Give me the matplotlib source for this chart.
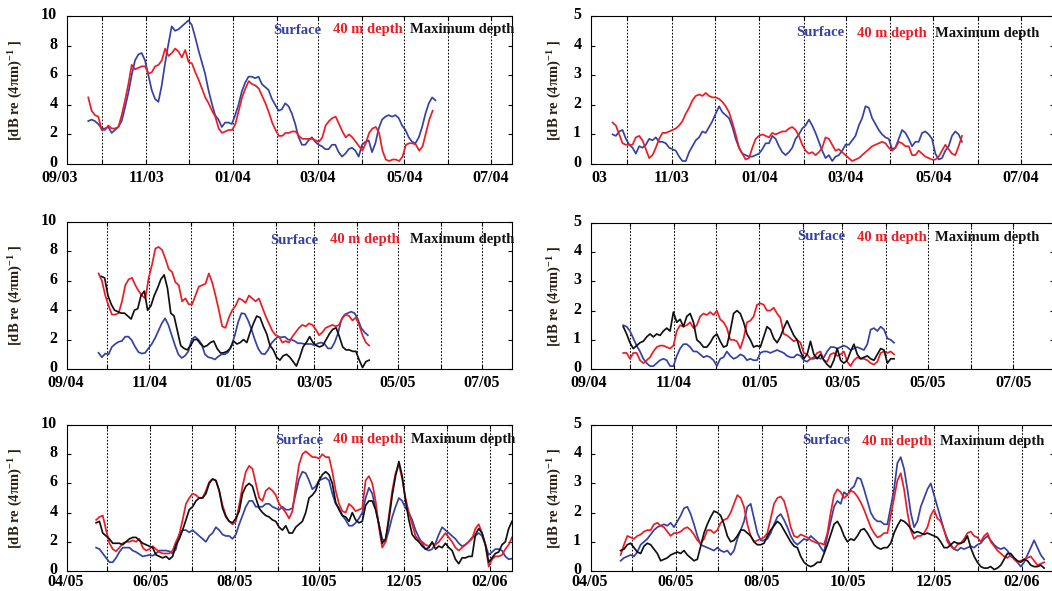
import matplotlib
matplotlib.use('Agg')
import matplotlib.pyplot as plt
import matplotlib.dates as mdates
from matplotlib.ticker import FuncFormatter
from matplotlib.transforms import ScaledTranslation
import pandas as pd

# ---------------- data ----------------
# Panel A (top-left): 2003-2004, scale 0-10
A_SURF_SPAN = ('2003-09-21', '2004-05-23')
A_SURF = [2.9, 3.0, 2.9, 2.7, 2.4, 2.4, 2.5, 2.1, 2.3, 2.5, 2.9, 3.8, 4.8, 6.0, 7.0, 7.4, 7.5, 7.0, 6.0, 5.0,
          4.4, 4.2, 5.3, 6.8, 8.1, 9.3, 9.0, 9.1, 9.3, 9.5, 9.7, 9.4, 8.6, 7.7, 6.9, 6.1, 5.0, 4.1, 3.3, 3.0,
          2.5, 2.8, 2.8, 2.7, 3.3, 4.0, 4.9, 5.5, 5.9, 5.9, 5.8, 5.9, 5.4, 5.2, 5.0, 4.4, 4.0, 3.6, 3.7, 4.1,
          3.9, 3.4, 2.7, 1.8, 1.3, 1.3, 1.6, 1.8, 1.5, 1.3, 1.2, 1.0, 1.0, 1.3, 1.3, 0.8, 0.5, 0.7, 1.0, 1.1,
          0.9, 0.5, 1.3, 1.5, 1.6, 0.8, 1.4, 2.4, 3.0, 3.2, 3.3, 3.2, 3.3, 3.1, 2.6, 2.3, 1.8, 1.5, 1.4, 1.8,
          2.5, 3.4, 4.1, 4.5, 4.3]
A_40M_SPAN = ('2003-09-21', '2004-05-21')
A_40M = [4.5, 3.6, 3.3, 3.2, 2.3, 2.3, 2.6, 2.4, 2.4, 2.5, 3.3, 4.3, 5.4, 6.7, 6.4, 6.5, 6.6, 6.6, 6.1, 6.2,
         6.6, 6.7, 7.0, 7.8, 7.3, 7.5, 7.8, 7.6, 7.2, 7.7, 6.9, 6.8, 6.2, 5.7, 5.1, 4.5, 4.1, 3.6, 3.2, 2.4,
         2.1, 2.2, 2.3, 2.3, 2.7, 3.6, 4.5, 5.1, 5.6, 5.4, 5.3, 5.1, 4.6, 4.1, 3.5, 2.8, 2.3, 1.9, 1.9, 2.1,
         2.1, 2.2, 2.2, 1.9, 1.7, 1.7, 1.7, 1.7, 1.6, 1.5, 1.8, 2.6, 2.9, 3.1, 3.2, 2.7, 2.2, 1.8, 2.0, 1.8,
         1.5, 1.2, 0.9, 1.4, 2.1, 2.4, 2.5, 2.1, 0.9, 0.3, 0.2, 0.3, 0.3, 0.2, 0.5, 1.3, 1.4, 1.4, 1.3, 0.9,
         1.2, 2.1, 3.0, 3.6]

# Panel B (top-right): 2003-2004, scale 0-5
B_SURF_SPAN = ('2003-09-21', '2004-05-21')
B_SURF = [1.0, 0.95, 1.1, 1.15, 0.85, 0.65, 0.55, 0.35, 0.6, 0.55, 0.65, 0.85, 0.8, 0.9, 0.75, 0.75, 0.7, 0.55,
          0.5, 0.45, 0.25, 0.1, 0.1, 0.4, 0.6, 0.8, 0.9, 1.1, 1.05, 1.25, 1.45, 1.7, 1.95, 1.75, 1.65, 1.55,
          1.25, 0.85, 0.55, 0.35, 0.3, 0.25, 0.25, 0.3, 0.35, 0.5, 0.7, 0.7, 0.95, 0.85, 0.6, 0.4, 0.3, 0.4,
          0.55, 0.85, 1.0, 1.2, 1.3, 1.5, 1.3, 1.05, 0.75, 0.45, 0.2, 0.3, 0.1, 0.25, 0.3, 0.45, 0.65, 0.65,
          0.8, 0.95, 1.3, 1.55, 1.95, 1.9, 1.55, 1.35, 1.15, 1.0, 0.9, 0.85, 0.5, 0.55, 0.85, 1.15, 1.05, 0.85,
          0.6, 0.75, 0.75, 1.05, 1.1, 1.0, 0.85, 0.35, 0.15, 0.2, 0.45, 0.6, 0.95, 1.1, 1.0, 0.75]
B_40M_SPAN = ('2003-09-21', '2004-05-21')
B_40M = [1.4, 1.3, 1.0, 0.7, 0.65, 0.65, 0.65, 0.9, 0.95, 0.8, 0.5, 0.2, 0.3, 0.55, 0.85, 1.05, 1.05, 1.1,
         1.15, 1.2, 1.3, 1.45, 1.7, 1.9, 2.15, 2.3, 2.35, 2.3, 2.4, 2.3, 2.25, 2.25, 2.2, 2.1, 1.95, 1.75,
         1.4, 1.0, 0.55, 0.35, 0.15, 0.2, 0.55, 0.85, 0.95, 1.0, 0.95, 0.9, 1.05, 1.0, 1.05, 1.1, 1.1, 1.2,
         1.25, 1.15, 0.95, 0.65, 0.45, 0.35, 0.4, 0.3, 0.4, 0.55, 0.9, 0.85, 0.65, 0.45, 0.5, 0.4, 0.3, 0.2,
         0.1, 0.15, 0.2, 0.3, 0.4, 0.5, 0.6, 0.65, 0.7, 0.75, 0.7, 0.55, 0.45, 0.55, 0.75, 0.7, 0.6, 0.6,
         0.3, 0.3, 0.45, 0.35, 0.25, 0.2, 0.15, 0.15, 0.25, 0.45, 0.65, 0.5, 0.35, 0.3, 0.6, 0.95]

# Panel C (middle-left): 2004-2005, scale 0-10
C_SURF_SPAN = ('2004-09-25', '2005-04-09')
C_SURF = [1.1, 0.8, 1.05, 1.0, 1.5, 1.7, 1.85, 1.9, 2.2, 2.2, 1.95, 1.5, 1.15, 1.05, 1.1, 1.4, 1.7, 2.1, 2.6,
          3.1, 3.45, 3.0, 2.3, 1.6, 1.0, 0.75, 0.9, 1.2, 2.0, 2.2, 2.0, 1.7, 1.0, 0.8, 0.75, 0.65, 0.85, 1.0,
          1.0, 1.15, 1.6, 2.3, 3.2, 3.8, 3.75, 3.3, 2.7, 2.0, 1.4, 1.05, 1.0, 1.3, 1.75, 2.0, 2.2, 2.15, 2.2,
          2.0, 2.0, 1.9, 1.75, 1.75, 1.7, 1.7, 1.7, 1.6, 1.75, 1.8, 1.7, 1.4, 1.4, 1.8, 2.4, 3.3, 3.7, 3.8,
          3.9, 3.8, 3.4, 2.8, 2.5, 2.3]
C_40M_SPAN = ('2004-09-25', '2005-04-10')
C_40M = [6.5, 6.0, 5.0, 4.3, 3.7, 3.7, 3.8, 4.6, 5.7, 6.1, 6.2, 5.7, 5.3, 5.0, 4.8, 6.2, 7.1, 8.2, 8.3, 8.1,
         7.5, 6.8, 6.6, 5.9, 5.7, 4.6, 4.8, 4.4, 4.4, 5.0, 5.6, 5.7, 5.8, 6.5, 5.9, 5.0, 4.0, 2.9, 2.8, 3.5,
         4.0, 4.3, 4.8, 4.7, 4.5, 5.0, 4.8, 4.6, 4.8, 4.2, 3.6, 3.1, 2.6, 2.3, 2.2, 1.8, 1.9, 1.8, 2.2, 2.5,
         2.8, 3.0, 2.9, 3.1, 3.0, 2.7, 2.3, 2.5, 2.8, 2.9, 3.0, 2.9, 3.0, 3.5, 3.7, 3.6, 3.3, 3.5, 3.0, 2.3,
         1.8, 1.6]
C_MAX_SPAN = ('2004-09-27', '2005-04-10')
C_MAX = [6.3, 6.2, 5.0, 4.4, 4.0, 3.9, 3.8, 3.8, 3.6, 3.4, 4.0, 4.1, 5.0, 5.3, 4.0, 4.3, 5.0, 5.5, 6.1, 6.4,
         5.5, 3.8, 3.6, 2.6, 1.6, 1.4, 1.3, 1.6, 2.0, 2.0, 1.7, 1.5, 1.6, 1.8, 1.9, 1.4, 1.1, 1.1, 1.2, 1.4,
         1.9, 1.7, 1.8, 2.0, 1.8, 2.5, 3.1, 3.6, 3.5, 2.9, 2.4, 1.6, 1.3, 0.8, 0.6, 0.9, 1.0, 0.8, 0.5, 0.2,
         0.8, 1.5, 1.8, 2.2, 1.8, 1.6, 1.5, 1.6, 2.0, 2.4, 2.7, 2.8, 2.2, 1.5, 1.3, 1.3, 1.2, 1.2, 0.6, 0.1,
         0.5, 0.6]

# Panel D (middle-right): 2004-2005, scale 0-5
D_SURF_SPAN = ('2004-09-26', '2005-04-07')
D_SURF = [1.5, 1.45, 1.3, 1.05, 0.8, 0.6, 0.35, 0.2, 0.1, 0.1, 0.2, 0.3, 0.35, 0.3, 0.1, 0.1, 0.45, 0.7,
          0.85, 0.85, 0.75, 0.6, 0.6, 0.5, 0.4, 0.45, 0.4, 0.3, 0.1, 0.35, 0.4, 0.6, 0.45, 0.35, 0.4, 0.5,
          0.45, 0.3, 0.35, 0.3, 0.3, 0.55, 0.6, 0.6, 0.55, 0.6, 0.65, 0.6, 0.55, 0.45, 0.4, 0.4, 0.5, 0.45,
          0.3, 0.25, 0.35, 0.35, 0.4, 0.35, 0.4, 0.6, 0.75, 0.75, 0.7, 0.75, 0.8, 0.75, 0.65, 0.7, 0.75, 0.7,
          0.65, 0.85, 1.35, 1.4, 1.3, 1.45, 1.35, 1.05, 1.0, 0.9]
D_40M_SPAN = ('2004-09-26', '2005-04-07')
D_40M = [0.55, 0.55, 0.35, 0.55, 0.55, 0.3, 0.2, 0.3, 0.4, 0.6, 0.75, 0.8, 0.8, 0.75, 0.7, 0.8, 1.3, 1.5,
         1.45, 1.5, 1.6, 1.4, 1.5, 1.8, 1.9, 1.85, 1.95, 1.85, 2.0, 1.7, 1.6, 1.4, 1.0, 1.0, 0.95, 0.7, 1.05,
         1.6, 1.65, 1.8, 2.2, 2.25, 2.2, 2.0, 2.0, 2.1, 1.9, 1.75, 1.2, 1.15, 1.05, 0.95, 1.0, 0.9, 0.55, 0.5,
         0.35, 0.4, 0.55, 0.6, 0.3, 0.25, 0.5, 0.55, 0.45, 0.5, 0.6, 0.25, 0.1, 0.3, 0.4, 0.35, 0.35, 0.3,
         0.2, 0.15, 0.25, 0.55, 0.6, 0.55, 0.6, 0.5]
D_MAX_SPAN = ('2004-09-26', '2005-04-07')
D_MAX = [1.45, 1.2, 0.9, 0.7, 0.8, 0.9, 0.95, 1.1, 1.2, 1.1, 1.2, 1.15, 1.3, 1.4, 1.3, 1.95, 1.6, 1.7, 1.45,
         1.8, 1.9, 1.6, 1.0, 0.9, 0.75, 0.75, 0.9, 1.1, 1.2, 0.95, 0.75, 0.8, 1.3, 1.9, 2.0, 1.9, 1.6, 1.2,
         1.0, 0.75, 0.8, 0.75, 1.1, 1.45, 1.35, 1.05, 0.9, 1.1, 1.4, 1.65, 1.4, 1.15, 1.0, 0.6, 0.35, 0.5,
         0.95, 0.5, 0.35, 0.5, 0.3, 0.15, 0.05, 0.3, 0.7, 0.3, 0.2, 0.3, 0.6, 0.85, 0.5, 0.35, 0.4, 0.45,
         0.35, 0.3, 0.5, 0.7, 0.65, 0.2, 0.35, 0.35]

# Panel E (bottom-left): 2005-2006, scale 0-10
E_SPAN = ('2005-04-23', '2006-02-17')
E_SURF = [1.6, 1.5, 1.2, 0.9, 0.6, 0.6, 0.9, 1.3, 1.6, 1.6, 1.6, 1.4, 1.3, 1.15, 1.0, 1.05, 1.1, 1.05, 1.2,
          1.4, 1.4, 1.4, 1.35, 1.2, 1.5, 2.5, 2.8, 2.8, 2.65, 2.8, 2.6, 2.4, 2.2, 2.0, 2.4, 2.6, 3.0, 2.8,
          2.5, 2.4, 2.4, 2.2, 2.5, 3.2, 3.8, 4.4, 4.8, 4.8, 4.4, 4.4, 4.4, 4.6, 4.6, 4.4, 4.3, 4.2, 4.4, 4.2,
          4.2, 4.3, 5.3, 6.3, 6.8, 6.7, 6.2, 5.6, 5.8, 6.2, 6.3, 6.4, 6.2, 5.3, 4.6, 4.3, 3.8, 3.5, 3.1, 3.1,
          3.3, 3.6, 4.0, 5.0, 5.7, 5.3, 4.3, 3.2, 2.2, 2.0, 2.8, 3.7, 4.4, 5.0, 4.8, 4.3, 4.0, 3.5, 2.8, 2.3,
          1.9, 1.5, 1.4, 1.5, 1.9, 2.5, 3.0, 2.8, 2.6, 2.4, 2.2, 1.9, 1.7, 1.8, 2.0, 2.3, 2.4, 2.6, 2.4, 1.8,
          1.1, 1.3, 1.5, 1.5, 1.4, 1.0, 0.8, 0.85]
E_40M = [3.5, 3.7, 3.8, 2.8, 1.9, 1.5, 1.35, 1.6, 1.9, 2.0, 2.0, 2.1, 2.0, 2.2, 1.6, 1.4, 1.5, 1.7, 1.5,
         1.3, 1.2, 1.2, 1.2, 1.4, 2.0, 2.5, 3.5, 4.6, 5.0, 5.3, 5.2, 5.0, 5.0, 5.5, 6.1, 6.3, 6.2, 5.5, 4.5,
         3.8, 3.4, 3.2, 3.4, 4.5, 5.8, 6.8, 7.2, 7.0, 6.0, 5.0, 4.8, 5.5, 5.7, 5.5, 5.2, 4.6, 4.3, 4.0, 3.6,
         4.1, 5.8, 7.3, 8.0, 8.2, 8.0, 7.8, 7.8, 7.7, 8.0, 7.8, 7.8, 6.8, 5.5, 4.6, 4.1, 4.0, 4.6, 4.4, 4.1,
         4.2, 4.3, 6.2, 6.5, 6.0, 4.8, 3.0, 1.6, 2.0, 3.8, 5.5, 6.7, 7.3, 6.3, 5.0, 4.0, 3.2, 2.4, 2.1, 2.0,
         1.8, 1.7, 1.9, 1.8, 2.0, 2.3, 2.6, 2.3, 2.0, 1.6, 1.4, 1.6, 1.8, 2.0, 2.2, 2.9, 3.2, 2.6, 1.8, 0.3,
         0.8, 1.0, 1.0, 1.1, 1.5, 1.8, 2.3]
E_MAX = [3.3, 3.4, 2.6, 2.4, 2.2, 1.9, 1.9, 1.9, 1.8, 2.0, 2.2, 2.3, 2.3, 2.1, 1.9, 1.8, 1.7, 1.6, 1.1,
         1.0, 0.9, 1.0, 0.8, 1.0, 1.8, 2.2, 2.8, 3.5, 4.2, 4.4, 4.8, 5.0, 5.0, 5.3, 6.0, 6.3, 6.2, 5.5, 4.3,
         3.7, 3.4, 3.3, 3.6, 4.1, 5.3, 5.8, 6.0, 5.8, 5.0, 4.3, 4.0, 3.8, 3.7, 3.5, 3.4, 3.0, 2.8, 3.1, 2.6,
         2.6, 3.0, 3.2, 3.4, 4.0, 5.0, 5.2, 5.5, 6.2, 6.6, 6.8, 6.6, 6.0, 4.7, 4.2, 3.8, 3.7, 3.4, 4.0, 3.5,
         3.3, 3.4, 4.5, 4.8, 4.8, 4.2, 3.2, 1.9, 2.2, 3.5, 5.2, 6.5, 7.5, 6.5, 4.8, 3.5, 2.5, 2.2, 2.0, 1.7,
         1.5, 1.6, 2.0, 1.5, 1.7, 1.6, 1.9, 1.6, 1.4, 0.8, 0.5, 0.9, 0.9, 1.0, 1.0, 2.5, 2.9, 2.6, 1.8, 0.6,
         0.9, 1.2, 1.3, 1.8, 2.0, 2.9, 3.4]

# Panel F (bottom-right): 2005-2006, scale 0-5
F_SPAN = ('2005-04-23', '2006-02-17')
F_SURF = [0.35, 0.45, 0.5, 0.55, 0.5, 0.65, 0.9, 1.0, 1.1, 1.25, 1.4, 1.5, 1.55, 1.6, 1.55, 1.65, 1.5, 1.7,
          1.9, 2.15, 2.2, 1.95, 1.6, 1.2, 0.9, 0.85, 0.8, 0.75, 0.7, 0.8, 0.7, 0.65, 0.7, 0.55, 0.7, 1.1,
          1.4, 1.7, 2.2, 2.3, 1.8, 1.3, 1.05, 1.05, 1.1, 1.3, 1.6, 1.85, 1.95, 1.75, 1.5, 1.2, 1.0, 0.9, 1.0,
          1.1, 1.05, 1.2, 1.1, 1.0, 0.8, 0.65, 1.2, 1.7, 2.2, 2.4, 2.3, 2.7, 2.6, 2.8, 2.9, 3.2, 3.15, 2.8,
          2.4, 2.0, 1.8, 1.7, 1.7, 1.6, 1.6, 2.2, 2.8, 3.7, 3.9, 3.5, 2.8, 2.0, 1.5, 1.7, 2.2, 2.5, 2.8, 3.0,
          2.6, 2.2, 1.8, 1.4, 1.1, 0.9, 0.75, 0.7, 0.8, 0.75, 0.8, 0.85, 0.8, 0.9, 0.95, 1.1, 1.2, 1.05, 0.9,
          0.8, 0.75, 0.8, 0.7, 0.5, 0.45, 0.3, 0.15, 0.3, 0.55, 0.8, 1.05, 0.8, 0.55, 0.4]
F_40M = [0.55, 0.9, 1.2, 1.15, 1.1, 1.2, 1.25, 1.35, 1.4, 1.4, 1.6, 1.65, 1.55, 1.5, 1.35, 1.2, 1.3, 1.3,
         1.35, 1.45, 1.5, 1.4, 1.25, 1.05, 0.95, 1.1, 1.4, 1.4, 1.3, 1.4, 1.65, 1.75, 1.8, 2.0, 2.3, 2.6, 2.5,
         2.2, 1.6, 1.2, 1.0, 1.05, 1.1, 1.15, 1.3, 1.8, 2.3, 2.5, 2.55, 2.4, 2.0, 1.5, 1.2, 1.15, 1.25, 1.2,
         1.15, 1.05, 1.0, 0.95, 0.95, 0.9, 1.3, 2.0, 2.6, 2.8, 2.7, 2.5, 2.6, 2.75, 2.7, 2.55, 2.35, 2.1, 1.8,
         1.5, 1.3, 1.15, 1.2, 1.3, 1.3, 1.9, 2.5, 3.1, 3.35, 2.8, 2.0, 1.4, 1.1, 1.2, 1.2, 1.3, 1.5, 1.9, 2.1,
         1.8, 1.7, 1.4, 1.0, 0.85, 0.75, 0.9, 0.95, 1.1, 1.3, 1.35, 1.2, 1.15, 1.0, 1.2, 1.3, 1.0, 0.85, 0.7,
         0.6, 0.5, 0.45, 0.55, 0.4, 0.3, 0.35, 0.4, 0.45, 0.5, 0.35, 0.2, 0.25, 0.3]
F_MAX = [0.7, 0.75, 0.9, 0.95, 0.8, 0.65, 0.6, 0.85, 0.95, 0.9, 0.75, 0.6, 0.35, 0.4, 0.45, 0.55, 0.6, 0.65,
         0.6, 0.7, 0.55, 0.45, 0.35, 0.4, 0.85, 1.3, 1.6, 1.85, 2.05, 2.0, 1.9, 1.6, 1.2, 1.0, 1.05, 1.2, 1.4,
         1.4, 1.3, 1.2, 1.0, 0.9, 0.9, 0.95, 1.2, 1.4, 1.55, 1.7, 1.6, 1.4, 1.2, 1.0, 0.85, 0.8, 0.5, 0.3,
         0.2, 0.15, 0.2, 0.3, 0.3, 0.6, 0.9, 1.25, 1.6, 1.7, 1.5, 1.2, 1.0, 1.1, 1.05, 1.2, 1.4, 1.45, 1.3,
         1.1, 0.9, 0.8, 0.75, 0.8, 0.8, 0.95, 1.3, 1.55, 1.75, 1.7, 1.6, 1.45, 1.3, 1.35, 1.3, 1.25, 1.3,
         1.25, 1.2, 1.15, 1.0, 0.8, 0.8, 0.9, 1.0, 0.95, 0.95, 1.0, 1.2, 0.8, 0.5, 0.3, 0.15, 0.1, 0.1, 0.15,
         0.05, 0.1, 0.2, 0.4, 0.6, 0.6, 0.45, 0.35, 0.3, 0.4, 0.35, 0.2, 0.15, 0.15, 0.2, 0.1]

LEGEND_LABELS = ['Surface', '40 m depth', 'Maximum depth']
YLABEL = '[dB re (4\u03c0m)$^{-1}$ ]'

# ---------------- style ----------------
W, H = 1052, 591
plt.rcParams['font.family'] = ['Liberation Serif', 'DejaVu Serif']
plt.rcParams['font.weight'] = 'bold'
plt.rcParams['mathtext.fontset'] = 'custom'
plt.rcParams['mathtext.rm'] = 'Liberation Serif:bold'
plt.rcParams['mathtext.it'] = 'Liberation Serif:bold'
plt.rcParams['mathtext.bf'] = 'Liberation Serif:bold'
plt.rcParams['mathtext.default'] = 'rm'

BLUE = '#3442a6'
RED = '#ec1c24'
BLACK = '#111111'
COLORS = [BLUE, RED, BLACK]

fig = plt.figure(figsize=(W / 100, H / 100), dpi=100)
shift_up = ScaledTranslation(0, 3 / 100, fig.dpi_scale_trans)


def series(span, vals):
    return pd.date_range(span[0], span[1], periods=len(vals)), vals


def make_panel(rect_px, xlim, ymax, ystep, label_parity, lines, first_label, first_label_date,
               legend_px, ylabel_x, xpad=4.0):
    x0, y0, x1, y1 = rect_px
    ax = fig.add_axes([x0 / W, 1 - y1 / H, (x1 - x0) / W, (y1 - y0) / H])
    lo, hi = pd.Timestamp(xlim[0]), pd.Timestamp(xlim[1])
    # monthly dotted guide lines
    for d in pd.date_range(lo.to_period('M').to_timestamp(), hi, freq='MS'):
        if lo < d < hi:
            ax.axvline(d, color='k', lw=0.75, ls=(0, (1.6, 1.6)), zorder=0.5)
    for (span, vals), c in zip(lines, COLORS):
        x, y = series(span, vals)
        ax.plot(x, y, color=c, lw=1.25, zorder=2)
    ax.set_xlim(lo, hi)
    ax.set_ylim(0, ymax)
    ax.set_yticks(range(0, ymax + 1, ystep))
    ax.xaxis.set_major_locator(mdates.MonthLocator())
    ax.xaxis.set_major_formatter(FuncFormatter(
        lambda v, p: mdates.num2date(v).strftime('%m/%y') if mdates.num2date(v).month % 2 == label_parity else ''))
    ax.tick_params(axis='both', direction='in', length=3, width=0.8, top=True, right=True,
                   labelsize=11.5)
    ax.tick_params(axis='x', pad=xpad)
    ax.tick_params(axis='y', pad=7)
    for lab in ax.get_xticklabels() + ax.get_yticklabels():
        lab.set_fontweight('bold')
    for lab in ax.get_yticklabels():
        lab.set_transform(lab.get_transform() + shift_up)
    for s in ax.spines.values():
        s.set_linewidth(0.8)
    if first_label_date is not None:
        ax.annotate(first_label, xy=(pd.Timestamp(first_label_date), 0),
                    xycoords=('data', 'axes fraction'), xytext=(0, -xpad), textcoords='offset points',
                    ha='center', va='top', fontsize=11.5, fontweight='bold', annotation_clip=False)
    else:
        ax.annotate(first_label, xy=(0.019, 0), xycoords='axes fraction', xytext=(0, -xpad),
                    textcoords='offset points', ha='center', va='top', fontsize=11.5,
                    fontweight='bold', annotation_clip=False)
    ax.set_ylabel(YLABEL, fontsize=10.5, fontweight='bold', color='#2a1f12',
                  va='center', ha='center')
    ax.yaxis.set_label_coords(ylabel_x, 0.5)
    # legend as coloured words
    ly = legend_px[3]
    for lx, txt, c in zip(legend_px[:3], LEGEND_LABELS, COLORS):
        fig.text(lx / W, 1 - ly / H, txt, color=c, fontsize=10.5, fontweight='bold',
                 ha='left', va='center')
    return ax


make_panel((67, 16, 512, 164), ('2003-09-06', '2004-07-16'), 10, 2, 1,
           [(A_SURF_SPAN, A_SURF), (A_40M_SPAN, A_40M)],
           '09/03', '2003-09-01', (273, 333, 410, 30), -0.115)
make_panel((591, 16, 1054, 164), ('2003-09-06', '2004-07-24'), 5, 1, 1,
           [(B_SURF_SPAN, B_SURF), (B_40M_SPAN, B_40M)],
           '03', None, (796, 857, 935, 33), -0.078)
make_panel((67, 222, 512, 369), ('2004-09-02', '2005-07-23'), 10, 2, 1,
           [(C_SURF_SPAN, C_SURF), (C_40M_SPAN, C_40M), (C_MAX_SPAN, C_MAX)],
           '09/04', '2004-09-01', (270, 330, 410, 240), -0.115)
make_panel((591, 223, 1054, 369), ('2004-09-03', '2005-07-30'), 5, 1, 1,
           [(D_SURF_SPAN, D_SURF), (D_40M_SPAN, D_40M), (D_MAX_SPAN, D_MAX)],
           '09/04', '2004-09-01', (797, 857, 935, 237), -0.078)
make_panel((67, 425, 512, 571), ('2005-04-02', '2006-02-17'), 10, 2, 0,
           [(E_SPAN, E_SURF), (E_SPAN, E_40M), (E_SPAN, E_MAX)],
           '04/05', '2005-04-01', (275, 333, 411, 440), -0.115, xpad=2.0)
make_panel((591, 425, 1054, 571), ('2005-04-02', '2006-02-24'), 5, 1, 0,
           [(F_SPAN, F_SURF), (F_SPAN, F_40M), (F_SPAN, F_MAX)],
           '04/05', '2005-04-01', (802, 862, 940, 441), -0.078, xpad=2.0)

fig.savefig('out.png', dpi=100)
